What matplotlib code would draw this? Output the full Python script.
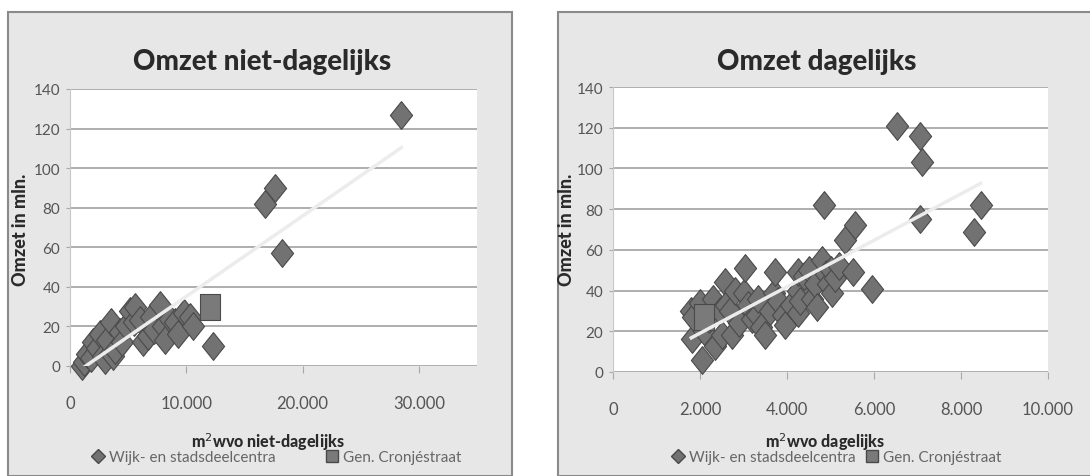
import numpy as np
import matplotlib
matplotlib.use("Agg")
import matplotlib.pyplot as plt
from matplotlib.patches import Rectangle
from matplotlib.lines import Line2D
from matplotlib.ticker import FuncFormatter

# niet-dagelijks (m2 wvo, omzet in mln.)
left_x = [1000, 1200, 1500, 1800, 2000, 2300, 2600, 2800, 3000, 3200, 3500, 3700, 3900,
          4300, 4500, 4800, 5200, 5500, 5600, 6000, 6300, 6700, 7000, 7200, 7700, 8000,
          8200, 8600, 9000, 9300, 9800, 10300, 10600, 12300, 16800, 17600, 18200, 28500]
left_y = [0, 2, 6, 4, 12, 9, 16, 5, 3, 13, 22, 5, 8,
          17, 12, 20, 28, 22, 30, 23, 12, 15, 25, 18, 31, 20,
          13, 24, 22, 16, 27, 25, 20, 10, 82, 90, 57, 127]
left_sq_x = [12000]
left_sq_y = [30]

# dagelijks
right_x = [1800, 1810, 1850, 2000, 2040, 2100, 2200, 2300, 2350, 2450, 2500, 2570, 2600,
           2700, 2730, 2800, 2900, 3000, 3030, 3100, 3200, 3300, 3330, 3400, 3490, 3600,
           3700, 3720, 3800, 3900, 3950, 4100, 4260, 4260, 4260, 4300, 4400, 4500, 4570,
           4650, 4700, 4800, 4840, 4900, 4950, 5000, 5030, 5100, 5200, 5330, 5520, 5560,
           5950, 6520, 7060, 7060, 7100, 8300, 8450]
right_y = [30, 16, 27, 34, 6, 20, 26, 36, 13, 30, 18, 44, 33,
           30, 18, 40, 24, 39, 51, 33, 26, 28, 36, 22, 18, 30,
           39, 49, 35, 28, 23, 33, 29, 40, 49, 35, 47, 50, 36,
           43, 32, 55, 82, 48, 43, 50, 39, 46, 52, 65, 49, 72,
           41, 121, 116, 75, 103, 69, 82]
right_sq_x = [2100]
right_sq_y = [27]

titles = ["Omzet niet-dagelijks", "Omzet dagelijks"]
xlabels = ["m$^2$wvo niet-dagelijks", "m$^2$wvo dagelijks"]
legend_labels = ["Wijk- en stadsdeelcentra", "Gen. Cronjéstraat"]

plt.rcParams["font.family"] = ["Lato", "DejaVu Sans"]

W, H = 1090, 477
fig = plt.figure(figsize=(W / 100, H / 100), dpi=100)
fig.patch.set_facecolor("white")

# chart-area frames (Excel style)
for x0, x1 in [(8, 512), (558, 1092)]:
    fig.patches.append(Rectangle((x0 / W, 0), (x1 - x0) / W, (H - 13) / H,
                                 transform=fig.transFigure, facecolor="#e7e7e7",
                                 edgecolor="#8a8a8a", linewidth=1.5, zorder=-5))

diamond = [(0, 1), (0.8, 0), (0, -1), (-0.8, 0), (0, 1)]
box = [(-0.75, 1), (0.75, 1), (0.75, -1), (-0.75, -1), (-0.75, 1)]


def fmt(v, pos):
    return f"{int(v):,}".replace(",", ".")


def panel(rect, xs, ys, sx, sy, xmax, xstep, title, xlabel, title_x, ylab_x):
    ax = fig.add_axes(rect)
    ax.set_facecolor("white")
    ax.scatter(xs, ys, marker=diamond, s=20 ** 2, color="#727272",
               edgecolors="#4a4a4a", linewidths=0.8, zorder=3, clip_on=False)
    ax.scatter(sx, sy, marker=box, s=19 ** 2, color="#7a7a7a",
               edgecolors="#4a4a4a", linewidths=0.8, zorder=3, clip_on=False)
    # linear trendline
    a, b = np.polyfit(xs, ys, 1)
    tx = np.array([min(xs), max(xs)])
    ax.plot(tx, a * tx + b, color="#ececec", linewidth=2.5, zorder=4)

    ax.set_xlim(0, xmax)
    ax.set_ylim(0, 140)
    ax.set_yticks(range(0, 141, 20))
    ax.set_xticks(np.arange(0, xmax + 1, xstep))
    ax.xaxis.set_major_formatter(FuncFormatter(fmt))
    ax.grid(axis="y", color="#a8a8a8", linewidth=1.3)
    ax.set_axisbelow(True)
    for s in ["top", "right", "bottom"]:
        ax.spines[s].set_visible(False)
    ax.spines["left"].set_color("#c8c8c8")
    ax.tick_params(axis="y", length=3, color="#a8a8a8", labelsize=11,
                   labelcolor="#555555", pad=4)
    ax.tick_params(axis="x", length=5, color="#a8a8a8", labelsize=12,
                   labelcolor="#555555", pad=16)

    fig.text(title_x / W, 1 - 62 / H, title, ha="center", va="center",
             fontsize=20, fontweight="black", color="#2a2a2a")
    fig.text(ylab_x / W, 1 - 230 / H, "Omzet in mln.", rotation=90, ha="center",
             va="center", fontsize=13, fontweight="black", color="#2a2a2a")
    fig.text((rect[0] + rect[2] / 2 - 0.005), 1 - 442 / H, xlabel, ha="center",
             va="center", fontsize=11.5, fontweight="black", color="#2a2a2a")
    return ax


ax1 = panel([70 / W, 1 - 367 / H, 407 / W, 277 / H], left_x, left_y, left_sq_x, left_sq_y,
            35000, 10000, titles[0], xlabels[0], 262, 21)
ax2 = panel([613 / W, 1 - 373 / H, 435 / W, 285 / H], right_x, right_y, right_sq_x, right_sq_y,
            10000, 2000, titles[1], xlabels[1], 817, 566)

handles = [Line2D([], [], marker="D", linestyle="none", markersize=7, color="#727272",
                  markeredgecolor="#4a4a4a"),
           Line2D([], [], marker="s", linestyle="none", markersize=8, color="#7a7a7a",
                  markeredgecolor="#4a4a4a")]
fig.legend(handles, legend_labels, loc="center", bbox_to_anchor=(276 / W, 1 - 458 / H),
           ncol=2, frameon=False, fontsize=11, labelcolor="#666666",
           handletextpad=0.2, columnspacing=3.2, handlelength=1)
fig.legend(handles, legend_labels, loc="center", bbox_to_anchor=(836 / W, 1 - 458 / H),
           ncol=2, frameon=False, fontsize=11, labelcolor="#666666",
           handletextpad=0.2, columnspacing=0.6, handlelength=1)

fig.savefig("out.png", dpi=100, facecolor="white")
